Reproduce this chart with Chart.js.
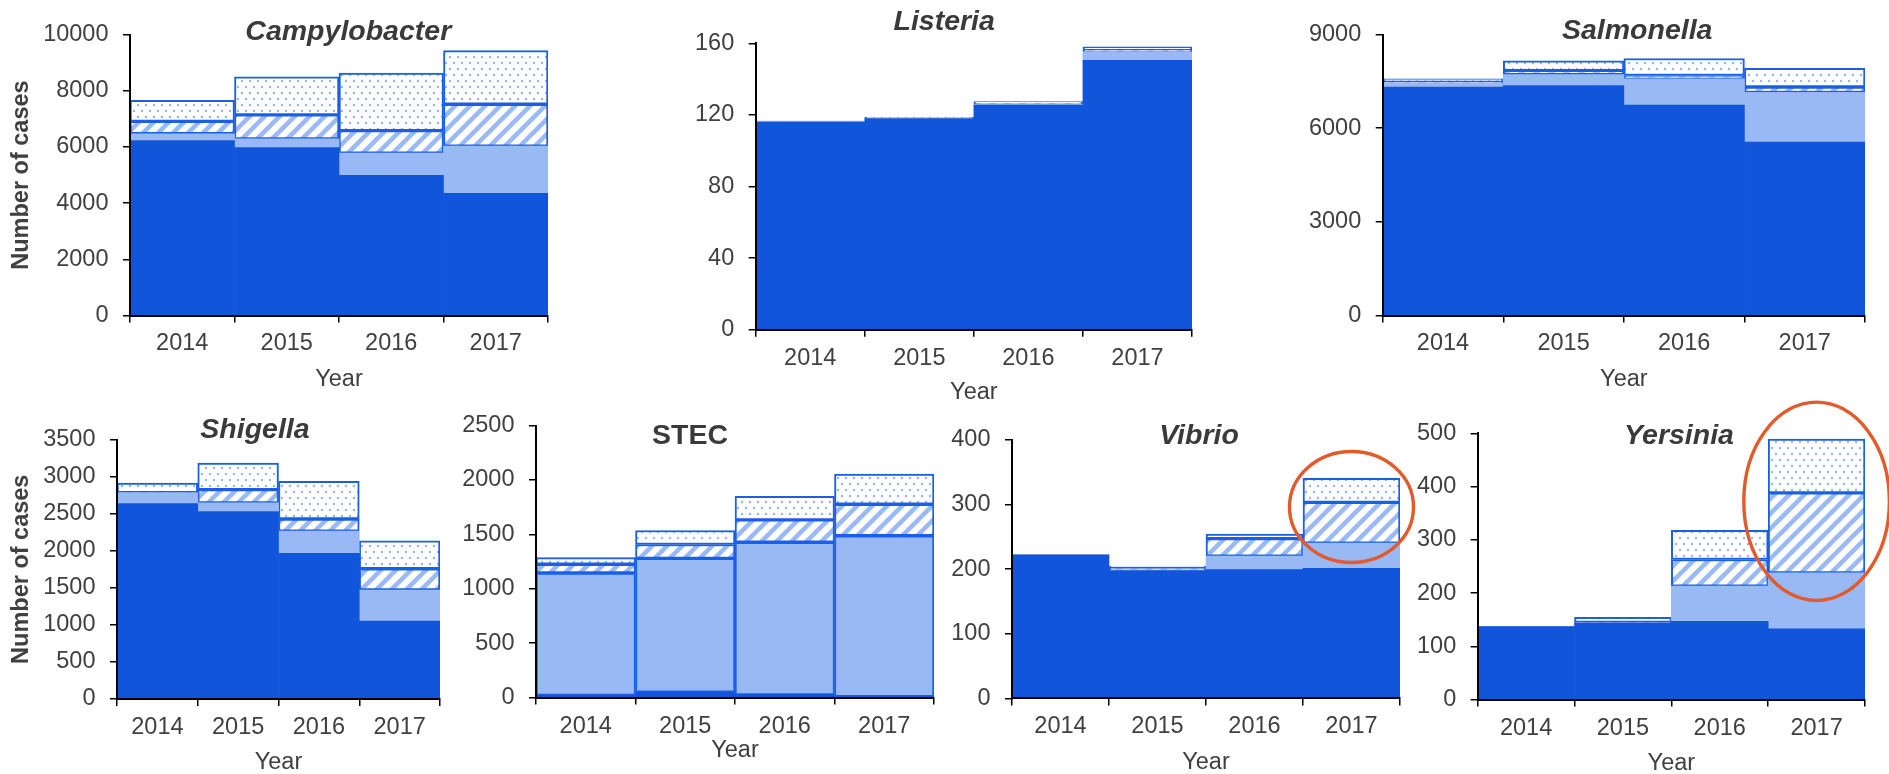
<!DOCTYPE html>
<html><head><meta charset="utf-8">
<script src="https://cdn.jsdelivr.net/npm/chart.js@4.4.1/dist/chart.umd.min.js"></script>
<style>
html,body{margin:0;padding:0;background:#fff;width:1889px;height:774px;overflow:hidden;position:relative;font-family:"Liberation Sans",Arial,sans-serif}
canvas{position:absolute}
</style></head><body>
<script>
// ---------- DATA ----------
const years = ['2014', '2015', '2016', '2017'];

const campyCulture  = [6230, 5980, 4990, 4350];
const campyLight    = [240, 310, 790, 1680];
const campyHatched  = [440, 850, 800, 1490];
const campyDotted   = [750, 1360, 2050, 1910];

const listeriaCulture = [116, 118, 125.5, 150.5];
const listeriaLight   = [0.6, 0, 0.5, 4.8];
const listeriaHatched = [0, 0.3, 0.5, 1];
const listeriaDotted  = [0, 0.3, 1, 1.7];

const salmCulture = [7320, 7370, 6745, 5560];
const salmLight   = [125, 350, 840, 1585];
const salmHatched = [55, 125, 105, 175];
const salmDotted  = [85, 315, 545, 600];

const shigCulture = [2635, 2530, 1965, 1050];
const shigLight   = [145, 115, 300, 420];
const shigHatched = [5, 180, 163, 287];
const shigDotted  = [128, 357, 508, 375];

const stecCulture = [20, 50, 25, 8];
const stecLight   = [1125, 1230, 1403, 1480];
const stecHatched = [81, 127, 205, 289];
const stecDotted  = [60, 129, 216, 277];

const vibCulture = [222, 197, 199, 201];
const vibLight   = [0, 0, 21, 39];
const vibHatched = [0, 6, 27, 63];
const vibDotted  = [0, 1.5, 7, 37];

const yerCulture = [137, 144, 147, 133];
const yerLight   = [0, 0, 66, 105];
const yerHatched = [0, 1, 50, 150];
const yerDotted  = [0, 9.5, 55, 101];

const titles = ['Campylobacter', 'Listeria', 'Salmonella', 'Shigella', 'STEC', 'Vibrio', 'Yersinia'];
const yMax   = [10000, 160, 9000, 3500, 2500, 400, 500];
const yStep  = [2000, 40, 3000, 500, 500, 100, 100];
const xTitle = 'Year';
const yTitleText = 'Number of cases';

// ---------- STYLE ----------
const DARK = '#1155DB', LIGHT = '#99B9F5', EDGE = '#1A5FE6', TEXT = '#404040', RING = '#E35A2B';
const FONT = '"Liberation Sans", Arial, sans-serif';
const FS = 23.5, LH = FS * 1.2;

function hatchPattern() {
  const c = document.createElement('canvas'); c.width = c.height = 15;
  const g = c.getContext('2d');
  g.fillStyle = '#fff'; g.fillRect(0, 0, 15, 15);
  g.strokeStyle = '#9BBAF5'; g.lineWidth = 4.5; g.beginPath();
  for (let k = -1; k <= 1; k++) { g.moveTo(k * 15 - 2, 17); g.lineTo(k * 15 + 17, -2); }
  g.stroke();
  return g.createPattern(c, 'repeat');
}
function dotPattern() {
  const c = document.createElement('canvas'); c.width = 8; c.height = 12;
  const g = c.getContext('2d');
  g.fillStyle = '#fff'; g.fillRect(0, 0, 8, 12);
  g.fillStyle = '#93B3F3';
  [[2, 3], [6, 9]].forEach(([x, y]) => { g.beginPath(); g.arc(x, y, 1.2, 0, Math.PI * 2); g.fill(); });
  return g.createPattern(c, 'repeat');
}

// layout of each panel (plot rectangles etc.)
const panels = [
  {data: [campyCulture, campyLight, campyHatched, campyDotted], L: 130, T: 28.3, R: 547.7, B: 314.3, yearY: 378.7, tx: 348.3, ty: 39.5, italic: true, yTitle: true},
  {data: [listeriaCulture, listeriaLight, listeriaHatched, listeriaDotted], L: 755.7, T: 43.3, R: 1191.7, B: 328.3, yearY: 391.5, tx: 944.2, ty: 29.7, italic: true, padTop: 43},
  {data: [salmCulture, salmLight, salmHatched, salmDotted], L: 1382.7, T: 28.3, R: 1865, B: 314.3, yearY: 378.7, tx: 1637.2, ty: 38.7, italic: true},
  {data: [shigCulture, shigLight, shigHatched, shigDotted], L: 117, T: 433.3, R: 439.3, B: 697.7, yearY: 761.7, tx: 255, ty: 437.7, italic: true, yTitle: true},
  {data: [stecCulture, stecLight, stecHatched, stecDotted], L: 536, T: 419, R: 933.3, B: 695.7, yearY: 749, tx: 690, ty: 443.7, italic: false, lightBorder: true},
  {data: [vibCulture, vibLight, vibHatched, vibDotted], L: 1012, T: 433.3, R: 1399.3, B: 697.3, yearY: 761.7, tx: 1199, ty: 444.4, italic: true, padRight: 22, ring: {value: 295.8, rx: 62, ry: 55.5}},
  {data: [yerCulture, yerLight, yerHatched, yerDotted], L: 1477.7, T: 433.3, R: 1864.3, B: 697.7, yearY: 762, tx: 1679, ty: 444.4, italic: true, padTop: 42, padRight: 25, ring: {value: 372.3, rx: 72.8, ry: 99.2}}
];

const hatch = hatchPattern(), dots = dotPattern();

panels.forEach((p, i) => {
  const cl = p.yTitle ? 0 : Math.round(p.L - 80);
  const ct = Math.round(p.T - (p.padTop || 22));
  const padTop = p.T - ct;
  const padRight = p.padRight || 12;
  const bottom = p.yearY + LH / 2;
  const cw = Math.ceil(p.R + padRight - cl);
  const ch = Math.ceil(bottom + 1 - ct);
  const cv = document.createElement('canvas');
  cv.width = cw; cv.height = ch;
  cv.style.left = cl + 'px'; cv.style.top = ct + 'px';
  cv.style.width = cw + 'px'; cv.style.height = ch + 'px';
  document.body.appendChild(cv);

  const titlePlugin = {
    id: 'panelTitle',
    afterDraw(chart) {
      const ctx = chart.ctx;
      ctx.save();
      ctx.font = (p.italic ? 'italic ' : '') + 'bold 28.5px ' + FONT;
      ctx.fillStyle = '#3A3A3A';
      ctx.textAlign = 'center'; ctx.textBaseline = 'alphabetic';
      ctx.fillText(titles[i], p.tx - cl, p.ty - ct);
      if (p.ring) {
        const x = chart.scales.x.getPixelForValue(3);
        const y = chart.scales.y.getPixelForValue(p.ring.value);
        ctx.beginPath();
        ctx.ellipse(x, y, p.ring.rx, p.ring.ry, 0, 0, Math.PI * 2);
        ctx.strokeStyle = RING; ctx.lineWidth = 3.4; ctx.stroke();
      }
      ctx.restore();
    }
  };

  const [a, b, c, d] = p.data;
  new Chart(cv, {
    type: 'bar',
    data: {
      labels: years,
      datasets: [
        {label: 'Culture-confirmed', data: a, backgroundColor: DARK, borderWidth: 0},
        {label: 'CIDT, culture-positive', data: b, backgroundColor: LIGHT, borderColor: EDGE, borderWidth: p.lightBorder ? 2 : 0, borderSkipped: false},
        {label: 'CIDT, culture-negative', data: c, backgroundColor: hatch, borderColor: EDGE, borderWidth: 2, borderSkipped: false},
        {label: 'CIDT, no culture', data: d, backgroundColor: dots, borderColor: EDGE, borderWidth: 2, borderSkipped: false}
      ]
    },
    options: {
      responsive: false,
      animation: false,
      devicePixelRatio: 1,
      barPercentage: 1,
      categoryPercentage: 1,
      layout: {padding: {left: 0, top: padTop, right: padRight, bottom: 0}},
      plugins: {legend: {display: false}, tooltip: {enabled: false}, title: {display: false}},
      scales: {
        x: {
          stacked: true,
          grid: {offset: true, drawOnChartArea: false, drawTicks: true, tickLength: 7, color: '#000', lineWidth: 1.5},
          border: {display: true, color: '#000', width: 2, z: 1},
          ticks: {color: TEXT, font: {family: FONT, size: FS}, padding: 7.4, maxRotation: 0, autoSkip: false},
          title: {display: true, text: xTitle, color: TEXT, font: {family: FONT, size: FS}, padding: {top: 0, bottom: 0}},
          afterFit: s => { s.height = bottom - p.B; }
        },
        y: {
          stacked: true,
          min: 0, max: yMax[i],
          grid: {drawOnChartArea: false, drawTicks: true, tickLength: 7, color: '#000', lineWidth: 1.5},
          border: {display: true, color: '#000', width: 2, z: 1},
          ticks: {stepSize: yStep[i], color: TEXT, font: {family: FONT, size: FS}, padding: 14.5, callback: v => String(v)},
          title: {display: !!p.yTitle, text: yTitleText, color: TEXT, font: {family: FONT, size: FS, weight: 'bold'}, padding: {top: 21.7 - LH / 2, bottom: 0}},
          afterFit: s => { s.width = p.L - cl; }
        }
      }
    },
    plugins: [titlePlugin]
  });
});
</script>
</body></html>
